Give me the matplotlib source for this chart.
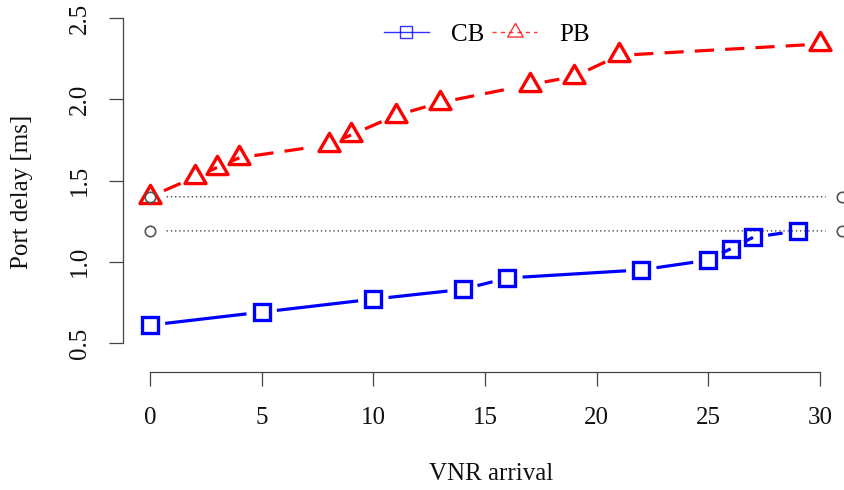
import matplotlib.pyplot as plt
from matplotlib.lines import Line2D
from matplotlib.path import Path

# Port delay per VNR arrival, two placement strategies
cb_x = [0, 5, 10, 14, 16, 22, 25, 26, 27, 29]
cb_y = [0.61, 0.69, 0.77, 0.83, 0.90, 0.95, 1.01, 1.08, 1.15, 1.19]
pb_x = [0, 2, 3, 4, 8, 9, 11, 13, 17, 19, 21, 30]
pb_y = [1.40, 1.52, 1.58, 1.64, 1.72, 1.78, 1.90, 1.98, 2.09, 2.14, 2.27, 2.34]

# reference levels: first PB value and last CB value
ref_x = [0, 31]
ref_levels = [pb_y[0], cb_y[-1]]

x_ticks = [0, 5, 10, 15, 20, 25, 30]
y_ticks = [0.5, 1.0, 1.5, 2.0, 2.5]

plt.rcParams['font.family'] = ['Liberation Serif', 'DejaVu Serif']
FS = 18
plt.rcParams['font.size'] = FS

W, H = 845, 490
fig = plt.figure(figsize=(W / 100, H / 100), dpi=100)
ax = fig.add_axes([123 / W, (H - 372) / H, (W - 123) / W, 372 / H])
ax.set_xlim(-1.209, 31.12)
ax.set_ylim(0.3215, 2.611)

# R-style "b" lines: segments stop short of the points
def gapped(xs, ys, color, lw, ls, gap):
    for i in range(len(xs) - 1):
        ax.annotate('', xy=(xs[i + 1], ys[i + 1]), xytext=(xs[i], ys[i]),
                    arrowprops=dict(arrowstyle='-', color=color, lw=lw,
                                    linestyle=ls, shrinkA=gap, shrinkB=gap,
                                    capstyle='butt'),
                    zorder=2)

# triangle centred on its circumcentre, like R's pch=2
tri = Path([(0, 1), (-0.866, -0.5), (0.866, -0.5), (0, 1)], closed=True)

gapped(cb_x, cb_y, 'blue', 2.3, '-', 11)
ax.plot(cb_x, cb_y, ls='none', marker='s', ms=11.5, mfc='none',
        mec='blue', mew=2.4, zorder=4)

gapped(pb_x, pb_y, 'red', 2.3, (0, (6, 3.5)), 11)
ax.plot(pb_x, pb_y, ls='none', marker=tri, ms=17.5, mfc='none',
        mec='red', mew=2.4, zorder=4)

for lvl in ref_levels:
    gapped(ref_x, [lvl, lvl], '#444444', 1.0, (0, (1, 2)), 12)
    ax.plot(ref_x, [lvl, lvl], ls='none', marker='o', ms=7.5, mfc='none',
            mec='#555555', mew=1.2, zorder=5, clip_on=False)

# axes drawn like R's axis(): open box, ranged spines
for s in ['top', 'right']:
    ax.spines[s].set_visible(False)
ax.spines['left'].set_bounds(0.5, 2.5)
ax.spines['bottom'].set_bounds(0, 30)
for s in ['left', 'bottom']:
    ax.spines[s].set_color('#444444')
    ax.spines[s].set_linewidth(0.9)

ax.set_xticks(x_ticks)
ax.set_yticks(y_ticks)
ax.set_xticklabels([str(v) for v in x_ticks])
ax.set_yticklabels([f'{v:.1f}' for v in y_ticks], rotation=90, va='center')
ax.tick_params(axis='both', length=10, width=0.9, color='#444444',
               labelsize=FS, labelcolor='#111111')
ax.tick_params(axis='x', pad=15)
ax.tick_params(axis='y', pad=13)

fig.text(22 / W, 1 - 192 / H, 'Port delay [ms]', rotation=90,
         ha='center', va='center', fontsize=FS, color='#111111')
fig.text(491 / W, 1 - 474 / H, 'VNR arrival', ha='center', va='center',
         fontsize=FS, color='#111111')

handles = [
    Line2D([], [], color='blue', lw=1, marker='s', ms=8, mfc='none',
           mec='blue', mew=1, alpha=0.8),
    Line2D([], [], color='red', lw=1, ls=(0, (3, 3)), marker=tri, ms=13,
           mfc='none', mec='red', mew=1, alpha=0.8),
]
ax.legend(handles, ['CB', 'PB'], ncol=2, frameon=False, loc='center',
          bbox_to_anchor=(487 / W, 1 - 35 / H), bbox_transform=fig.transFigure,
          handlelength=1.8, handletextpad=0.9, columnspacing=0.3,
          borderpad=0, fontsize=FS)

fig.savefig('out.png', dpi=100)
